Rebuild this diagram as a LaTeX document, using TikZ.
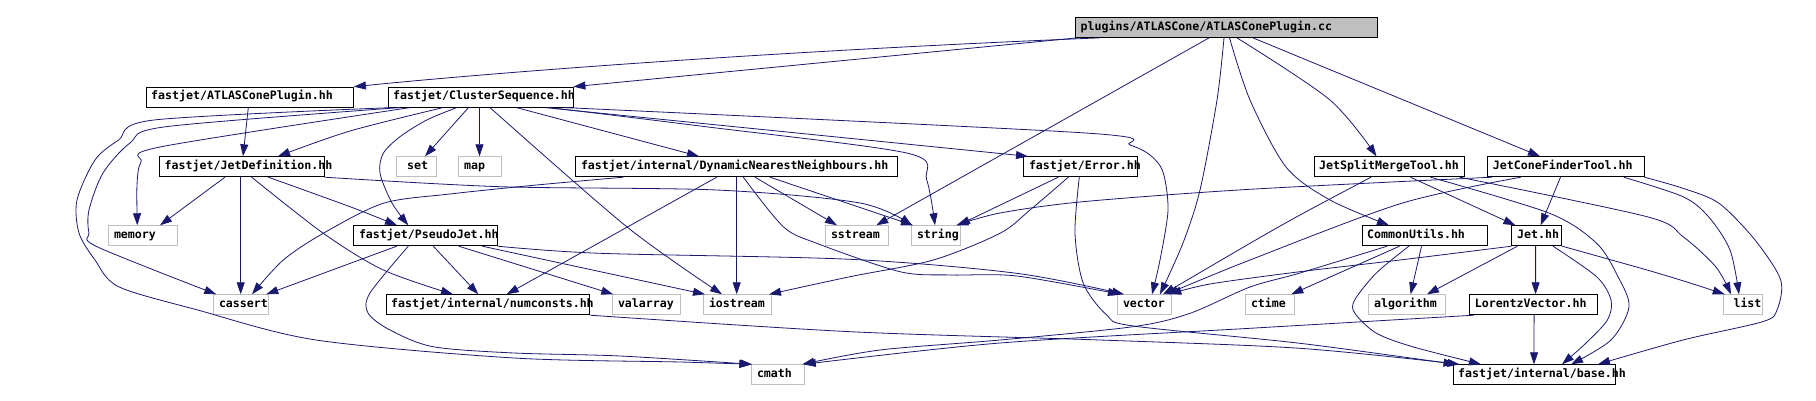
\documentclass[tikz,border=0pt]{standalone}
\usepackage{fontspec}
\setmonofont{DejaVu Sans Mono}
\usetikzlibrary{arrows.meta}
\definecolor{edgeblue}{HTML}{191970}
\definecolor{lgray}{HTML}{BFBFBF}
\tikzset{
  box/.style={draw=black, line width=0.9pt, inner sep=0pt, fill=white},
  sysbox/.style={draw=lgray, line width=0.9pt, inner sep=0pt, fill=white},
  topbox/.style={draw=black, line width=0.9pt, inner sep=0pt, fill=lgray},
  lbl/.style={anchor=base west, inner sep=0pt, font=\ttfamily\bfseries\fontsize{11.6}{13}\selectfont},
  edge/.style={draw=edgeblue, line width=0.8pt, -{Triangle[length=12pt,width=8pt]}},
}
% #1 text offset, #2 name, #3 style, #4 x1, #5 y1, #6 x2, #7 y2, #8 text
\newcommand\gnode[8][5.5]{%
  \node[#3, anchor=north west, minimum width={(#6)-(#4)}, minimum height={(#7)-(#5)}] (#2) at (#4,#5) {};
  \node[lbl] (#2-t) at ([xshift=#1pt,yshift=-13.3pt]#2.north west) {#8};
}
\begin{document}
\begin{tikzpicture}[x=1pt,y=-1pt]
\useasboundingbox (0,0) rectangle (1816,401);
\gnode{T}{topbox}{1075}{17}{1377}{37}{plugins/ATLASCone/ATLASConePlugin.cc}
\gnode{A}{box}{145.5}{86.7}{353}{106.7}{fastjet/ATLASConePlugin.hh}
\gnode{CS}{box}{387.5}{86.7}{572.5}{106.7}{fastjet/ClusterSequence.hh}
\gnode{JD}{box}{159}{156.3}{323.5}{176.3}{fastjet/JetDefinition.hh}
\gnode[11]{set}{sysbox}{396}{156.3}{436}{176.3}{set}
\gnode[6.5]{map}{sysbox}{457.5}{156.3}{500.5}{176.3}{map}
\gnode{DNN}{box}{575.3}{156.3}{897.3}{176.3}{fastjet/internal/DynamicNearestNeighbours.hh}
\gnode{Err}{box}{1023.3}{156.3}{1137.3}{176.3}{fastjet/Error.hh}
\gnode{JSM}{box}{1313.5}{156.3}{1464.4}{176.3}{JetSplitMergeTool.hh}
\gnode{JCF}{box}{1487.2}{156.3}{1643.5}{176.3}{JetConeFinderTool.hh}
\gnode{memory}{sysbox}{108.3}{225.3}{177.3}{245.3}{memory}
\gnode{PJ}{box}{353.3}{225.3}{496.7}{245.3}{fastjet/PseudoJet.hh}
\gnode{sstream}{sysbox}{825.3}{225.3}{888.3}{245.3}{sstream}
\gnode{string}{sysbox}{911.3}{225.3}{960.3}{245.3}{string}
\gnode{CU}{box}{1361.5}{225.3}{1487.2}{245.3}{CommonUtils.hh}
\gnode{Jet}{box}{1511.4}{225.3}{1561.2}{245.3}{Jet.hh}
\gnode{cassert}{sysbox}{213.3}{294.3}{268.3}{314.3}{cassert}
\gnode{NC}{box}{385.5}{294.3}{589.3}{314.3}{fastjet/internal/numconsts.hh}
\gnode{valarray}{sysbox}{612.3}{294.3}{680.3}{314.3}{valarray}
\gnode{iostream}{sysbox}{703.3}{294.3}{771.3}{314.3}{iostream}
\gnode{vector}{sysbox}{1117.3}{294.3}{1171.3}{314.3}{vector}
\gnode{ctime}{sysbox}{1245.3}{294.3}{1293.7}{314.3}{ctime}
\gnode{algorithm}{sysbox}{1368.4}{294.3}{1445.3}{314.3}{algorithm}
\gnode{LV}{box}{1469.1}{294.3}{1597.3}{314.3}{LorentzVector.hh}
\gnode[10]{list}{sysbox}{1723.3}{294.3}{1761.6}{314.3}{list}
\gnode{cmath}{sysbox}{751.3}{364.3}{804.3}{384.3}{cmath}
\gnode{base}{box}{1452.5}{364.3}{1615.3}{384.3}{fastjet/internal/base.hh}
% T
\draw[edge] ([xshift=24pt]T.south west) .. controls (800,50) and (520,70) .. (A.north east);
\draw[edge] ([xshift=2pt]T.south west) -- (CS.north east);
\draw[edge] ([xshift=134pt]T.south west) -- ([xshift=51pt]sstream.north west);
\draw[edge] plot[smooth] coordinates {([xshift=149pt]T.south west) (1217,100) (1200,190) (1183,243) ([xshift=42.7pt]vector.north west)};
\draw[edge] plot[smooth] coordinates {([xshift=154.5pt]T.south west) (1250,100) (1286,167) (1330,200) ([xshift=27.5pt]CU.north west)};
\draw[edge] plot[smooth] coordinates {([xshift=162pt]T.south west) (1330,100) ([xshift=63pt]JSM.north west)};
\draw[edge] ([xshift=178pt]T.south west) -- ([xshift=52.8pt]JCF.north west);
% A
\draw[edge] ([xshift=102.8pt]A.south west) -- ([xshift=84pt]JD.north west);
% CS
\draw[edge] plot[smooth] coordinates {([xshift=55.5pt]CS.south west) (350,131) ([xshift=119pt]JD.north west)};
\draw[edge] ([xshift=81pt]CS.south west) -- ([xshift=29pt]set.north west);
\draw[edge] ([xshift=92pt]CS.south west) -- ([xshift=22pt]map.north west);
\draw[edge] ([xshift=129pt]CS.south west) -- ([xshift=123.7pt]DNN.north west);
\draw[edge] plot[smooth] coordinates {([xshift=102.5pt]CS.south west) (626.7,226.7) ([xshift=18.7pt]iostream.north west)};
\draw[edge] plot[smooth] coordinates {([xshift=162.5pt]CS.south west) (700,126) (908,153.3) (926.7,180) ([xshift=23.7pt]string.north west)};
\draw[edge] ([xshift=157.5pt]CS.south west) -- ([xshift=4.7pt]Err.north west);
\draw[edge] plot[smooth] coordinates {([xshift=177.5pt]CS.south west) (1085.7,133) (1130,145) (1150,155) (1163,172) (1168,210) (1160,260) ([xshift=34.7pt]vector.north west)};
\draw[edge] plot[smooth] coordinates {([xshift=22.5pt]CS.south west) (160,147) (141,162) (137,185) ([xshift=29pt]memory.north west)};
\draw[edge] plot[smooth] coordinates {([xshift=12.5pt]CS.south west) (166,126.7) (130,143) (103,173) (89,210) (89,233) (97,246.7) ([xshift=3pt]cassert.north west)};
\draw[edge] plot[smooth] coordinates {([xshift=4pt]CS.south west) (154,120) (118.6,140) (95,160) (77,200) (79,233) (95,260) (118.6,286.7) (197.7,310) (316,340) (514,358) (680,362) (cmath.north west)};
\draw[edge] plot[smooth] coordinates {([xshift=69.2pt]CS.south west) (426.7,120) (400,136.7) (383.3,153.3) (380,173.3) (392,203) ([xshift=55pt]PJ.north west)};
% JD
\draw[edge] ([xshift=66pt]JD.south west) -- ([xshift=51.7pt]memory.north west);
\draw[edge] ([xshift=81.7pt]JD.south west) -- ([xshift=27.4pt]cassert.north west);
\draw[edge] plot[smooth] coordinates {([xshift=92.7pt]JD.south west) (323.3,233.3) (383.3,270) ([xshift=67.5pt]NC.north west)};
\draw[edge] plot[smooth] coordinates {([xshift=109.3pt]JD.south west) (350,206.7) ([xshift=43.7pt]PJ.north west)};
\draw[edge] plot[smooth] coordinates {(JD.south east) (500,186.7) (716.7,190) (860,203) ([xshift=0.7pt]string.north west)};
% PJ
\draw[edge] ([xshift=43.4pt]PJ.south west) -- ([xshift=53pt]cassert.north west);
\draw[edge] plot[smooth] coordinates {([xshift=55pt]PJ.south west) (370,293) (368,313) (390,330) (433,346.7) (514,353) (620,356) ([xshift=1pt]cmath.north west)};
\draw[edge] ([xshift=80pt]PJ.south west) -- ([xshift=92.8pt]NC.north west);
\draw[edge] ([xshift=105.4pt]PJ.south west) -- ([xshift=1pt]valarray.north west);
\draw[edge] ([xshift=129pt]PJ.south west) -- ([xshift=1.7pt]iostream.north west);
\draw[edge] plot[smooth] coordinates {(PJ.south east) (600,253.3) (850,259.3) (1016.7,273.3) ([xshift=6.7pt]vector.north west)};
% DNN
\draw[edge] plot[smooth] coordinates {([xshift=48pt]DNN.south west) (536.7,185) (450,194) (383.3,203.3) (323.3,233.3) (283.3,260) ([xshift=38.7pt]cassert.north west)};
\draw[edge] ([xshift=141.4pt]DNN.south west) -- ([xshift=121.2pt]NC.north west);
\draw[edge] ([xshift=161.4pt]DNN.south west) -- ([xshift=33.4pt]iostream.north west);
\draw[edge] plot[smooth] coordinates {([xshift=168pt]DNN.south west) (783.3,226.7) (816.7,243.3) (900,271.7) (950,275) (1016.7,276) ([xshift=2.7pt]vector.north west)};
\draw[edge] ([xshift=179.7pt]DNN.south west) -- ([xshift=11.7pt]sstream.north west);
\draw[edge] ([xshift=194.7pt]DNN.south west) -- ([xshift=1.7pt]string.north west);
% Err
\draw[edge] ([xshift=35pt]Err.south west) -- ([xshift=46.7pt]string.north west);
\draw[edge] plot[smooth] coordinates {([xshift=45pt]Err.south west) (1030,210) (1000,233.3) (933.3,260) (850,276.7) ([xshift=65.7pt]iostream.north west)};
\draw[edge] plot[smooth] coordinates {([xshift=56pt]Err.south west) (1075,233.3) (1083.3,283.3) (1106.7,315) (1133.3,326) (1300,343.3) ([xshift=3pt]base.north west)};
% JSM
\draw[edge] plot[smooth] coordinates {([xshift=57.5pt]JSM.south west) (1300,215) (1250,243.3) ([xshift=45.7pt]vector.north west)};
\draw[edge] ([xshift=97pt]JSM.south west) -- ([xshift=4pt]Jet.north west);
\draw[edge] plot[smooth] coordinates {([xshift=117pt]JSM.south west) (1549.6,213.3) (1596.6,243.3) (1618,276.7) (1629,306.7) (1611,340) ([xshift=118.5pt]base.north west)};
\draw[edge] plot[smooth] coordinates {([xshift=146pt]JSM.south west) (1647,216.7) (1683,236.7) (1715.7,266.7) ([xshift=7.7pt]list.north west)};
% JCF
\draw[edge] plot[smooth] coordinates {([xshift=5pt]JCF.south west) (1250,189.3) (1083,201.7) (1000,213) ([xshift=45pt]string.north west)};
\draw[edge] plot[smooth] coordinates {([xshift=33.6pt]JCF.south west) (1401.6,203.3) (1250,260) ([xshift=49pt]vector.north west)};
\draw[edge] ([xshift=73.3pt]JCF.south west) -- ([xshift=29.2pt]Jet.north west);
\draw[edge] plot[smooth] coordinates {([xshift=136.4pt]JCF.south west) (1683,196.7) (1708.5,216.7) (1730,250) ([xshift=15.7pt]list.north west)};
\draw[edge] plot[smooth] coordinates {(JCF.south east) (1683,188.3) (1719,203.3) (1755,240) (1780.7,280) (1777,310) (1762.6,321.7) (1683,340) ([xshift=145.5pt]base.north west)};
% CU
\draw[edge] plot[smooth] coordinates {([xshift=25.5pt]CU.south west) (1300,273) (1250,287) (1190,313.3) (1133,326.7) (1000,340) (880,350) ([xshift=51pt]cmath.north west)};
\draw[edge] ([xshift=38pt]CU.south west) -- ([xshift=46pt]ctime.north west);
\draw[edge] plot[smooth] coordinates {([xshift=47.3pt]CU.south west) (1376,273.3) (1354.7,300) (1354.7,313) (1376,333) (1412.5,346.7) ([xshift=28.5pt]base.north west)};
\draw[edge] ([xshift=60pt]CU.south west) -- ([xshift=42.2pt]algorithm.north west);
% Jet
\draw[edge] plot[smooth] coordinates {(Jet.south west) (1400,260) (1300,271.7) (1210,284) ([xshift=52pt]vector.north west)};
\draw[edge] ([xshift=6pt]Jet.south west) -- ([xshift=58.6pt]algorithm.north west);
\draw[edge] ([xshift=24.2pt]Jet.south west) -- ([xshift=66.5pt]LV.north west);
\draw[edge] plot[smooth] coordinates {([xshift=41.6pt]Jet.south west) (1596.6,276.7) (1611,300) (1607.4,320) (1585.7,343.3) ([xshift=109.5pt]base.north west)};
\draw[edge] plot[smooth] coordinates {(Jet.south east) (1647,270) (1690,283) ([xshift=1.4pt]list.north west)};
% LV
\draw[edge] plot[smooth] coordinates {([xshift=5pt]LV.south west) (1250,328.3) (1000,343) ([xshift=52.5pt]cmath.north west)};
\draw[edge] ([xshift=65pt]LV.south west) -- ([xshift=81.5pt]base.north west);
% NC
\draw[edge] plot[smooth] coordinates {(NC.south east) (850,331.7) (1100,340) (1300,348.3) ([xshift=7pt]base.north west)};
\end{tikzpicture}
\end{document}
